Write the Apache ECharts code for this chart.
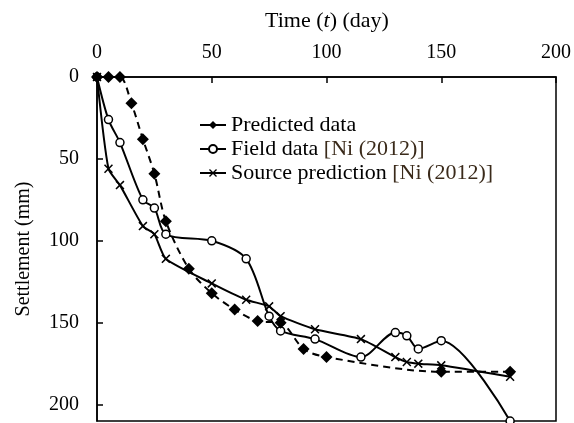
<!DOCTYPE html>
<html>
<head>
<meta charset="utf-8">
<script src="https://cdn.jsdelivr.net/npm/echarts@6/dist/echarts.min.js"></script>
<style>html,body{margin:0;padding:0;background:#fff}#c{width:574px;height:423px}</style>
</head>
<body>
<div id="c"></div>
<script>
var predictedDays = [0, 5, 10, 15, 20, 25, 30, 40, 50, 60, 70, 80, 90, 100, 150, 180];
var predictedSettlement = [0, 0, 0, 16, 38, 59, 88, 117, 132, 142, 149, 150, 166, 171, 180, 180];

var fieldDays = [0, 5, 10, 20, 25, 30, 50, 65, 75, 80, 95, 115, 130, 135, 140, 150, 180];
var fieldSettlement = [0, 26, 40, 75, 80, 96, 100, 111, 146, 155, 160, 171, 156, 158, 166, 161, 210];

var sourceDays = [0, 5, 10, 20, 25, 30, 50, 65, 75, 80, 95, 115, 130, 135, 140, 150, 180];
var sourceSettlement = [0, 56, 66, 91, 96, 111, 126, 136, 140, 146, 154, 160, 171, 174, 175, 176, 183];

var xTicks = [0, 50, 100, 150, 200];
var yTicks = [0, 50, 100, 150, 200];

function pairs(xs, ys) { return xs.map(function (x, i) { return [x, ys[i]]; }); }

var FONT = '"Liberation Serif", "DejaVu Serif", serif';
var crossPath = 'path://M0,1.2L1.2,0L5,3.8L8.8,0L10,1.2L6.2,5L10,8.8L8.8,10L5,6.2L1.2,10L0,8.8L3.8,5Z';

var chart = echarts.init(document.getElementById('c'), null, {renderer: 'canvas'});
chart.setOption({
  backgroundColor: '#fff',
  animation: false,
  textStyle: {fontFamily: FONT},
  title: {
    text: 'Time ({i|t}) (day)',
    left: 322, top: 5, textAlign: 'center',
    textStyle: {
      fontFamily: FONT, fontSize: 22, fontWeight: 'normal', color: '#000',
      rich: {i: {fontFamily: FONT, fontSize: 22, fontStyle: 'italic', color: '#000'}}
    }
  },
  grid: {left: 97, top: 77, right: 18, bottom: 2, show: true, borderColor: '#000', borderWidth: 1.5, backgroundColor: 'transparent'},
  legend: {
    orient: 'vertical', left: 194, top: 109, itemWidth: 26, itemHeight: 10, itemGap: 2,
    textStyle: {fontFamily: FONT, fontSize: 22, color: '#000', rich: {b: {fontFamily: FONT, fontSize: 22, color: '#3a2a1a'}}},
    formatter: function (n) { var k = n.indexOf('['); return k < 0 ? n : n.slice(0, k) + '{b|' + n.slice(k) + '}'; },
    lineStyle: {type: 'solid'},
    data: ['Predicted data', 'Field data [Ni (2012)]', 'Source prediction [Ni (2012)]']
  },
  xAxis: {
    type: 'value', position: 'top', min: xTicks[0], max: xTicks[xTicks.length - 1], interval: 50,
    axisLine: {show: true, lineStyle: {color: '#000', width: 1.5}},
    axisTick: {show: true, inside: true, length: 6, lineStyle: {color: '#000', width: 1.5}},
    axisLabel: {fontFamily: FONT, fontSize: 20, color: '#000', margin: 14},
    splitLine: {show: false}
  },
  yAxis: {
    type: 'value', inverse: true, min: yTicks[0], max: 210, interval: 50,
    name: 'Settlement (mm)', nameLocation: 'middle', nameGap: 63, nameRotate: 90,
    nameTextStyle: {fontFamily: FONT, fontSize: 20, color: '#000'},
    axisLine: {show: true, lineStyle: {color: '#000', width: 1.5}},
    axisTick: {show: true, inside: true, length: 6, lineStyle: {color: '#000', width: 1.5}},
    axisLabel: {fontFamily: FONT, fontSize: 20, color: '#000', margin: 18, showMaxLabel: false,
      formatter: function (v) { return yTicks.indexOf(v) >= 0 ? String(v) : ''; }},
    splitLine: {show: false}
  },
  series: [
    {
      name: 'Predicted data', type: 'line', data: pairs(predictedDays, predictedSettlement),
      smooth: 0.3, symbol: 'diamond', symbolSize: 12,
      lineStyle: {color: '#000', width: 2, type: [7, 5]},
      itemStyle: {color: '#000'}, z: 3
    },
    {
      name: 'Field data [Ni (2012)]', type: 'line', data: pairs(fieldDays, fieldSettlement),
      smooth: 0.3, symbol: 'circle', symbolSize: 8, showAllSymbol: true,
      lineStyle: {color: '#000', width: 2},
      itemStyle: {color: '#fff', borderColor: '#000', borderWidth: 1.5}, z: 2
    },
    {
      name: 'Source prediction [Ni (2012)]', type: 'line', data: pairs(sourceDays, sourceSettlement),
      smooth: 0.2, symbol: crossPath, symbolSize: 9,
      lineStyle: {color: '#000', width: 2},
      itemStyle: {color: '#000'}, z: 2
    }
  ]
});
</script>
</body>
</html>
